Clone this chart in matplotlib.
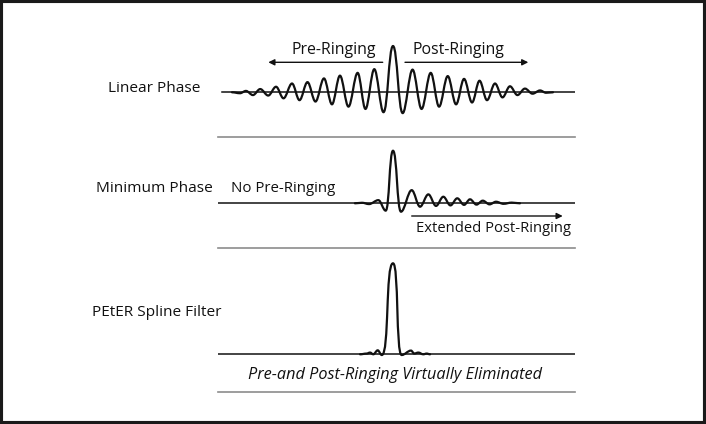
"""
Impulse responses of linear phase, minimum phase and PEtER spline filters
"""

import matplotlib
matplotlib.use("Agg")
from matplotlib import pyplot as plt
from matplotlib.path import Path
from matplotlib.patches import PathPatch, FancyArrowPatch, Rectangle

# extrema of each impulse response: time (ringing samples) and amplitude (peak = 1)
linear_t = [-9.47, -9.00, -8.65, -8.24, -7.81, -7.34, -6.88, -6.44, -5.94, -5.50,
            -5.03, -4.56, -4.06, -3.59, -3.12, -2.62, -2.08, -1.62, -1.10, -0.56,
            0.00, 0.57, 1.15, 1.68, 2.22, 2.71, 3.22, 3.71, 4.18, 4.65,
            5.09, 5.53, 6.00, 6.44, 6.88, 7.32, 7.76, 8.21, 8.65, 9.00, 9.41]
linear_a = [0.00, -0.02, 0.03, -0.06, 0.07, -0.07, 0.12, -0.13, 0.19, -0.17,
            0.22, -0.20, 0.30, -0.26, 0.36, -0.31, 0.42, -0.36, 0.50, -0.43,
            1.00, -0.45, 0.49, -0.36, 0.42, -0.31, 0.35, -0.26, 0.29, -0.22,
            0.25, -0.17, 0.19, -0.11, 0.13, -0.06, 0.08, -0.03, 0.04, -0.01, 0.00]

minimum_t = [-2.24, -1.82, -1.41, -0.86, -0.43, 0.00, 0.47, 1.10, 1.59, 2.08,
             2.53, 2.96, 3.38, 3.78, 4.18, 4.53, 4.91, 5.28, 5.68, 6.06,
             6.50, 6.98, 7.47]
minimum_a = [0.00, 0.01, -0.015, 0.06, -0.14, 1.00, -0.16, 0.25, -0.065, 0.17,
             -0.05, 0.125, -0.04, 0.095, -0.03, 0.076, -0.025, 0.05, -0.02, 0.03,
             -0.01, 0.013, 0.00]

peter_t = [-1.94, -1.55, -1.35, -1.16, -0.90, -0.66, 0.00, 0.51, 1.06, 1.25,
           1.49, 1.78, 1.98, 2.18]
peter_a = [0.00, 0.008, 0.019, 0.00, 0.044, -0.008, 1.00, -0.008, 0.041, 0.008,
           0.019, 0.00, 0.008, 0.00]

panel_labels = ["Linear Phase", "Minimum Phase", "PEtER Spline Filter"]

W, H = 706, 424
INK = "#111111"
FONT = "Open Sans"


def fx(px):
    return px / W


def fy(py):
    return 1 - py / H


def wave_path(t, a, k_ring, k_peak):
    """ Smooth path through the extrema, flat at every turning point """
    ipk = a.index(max(a))
    verts = [(t[0], a[0])]
    codes = [Path.MOVETO]
    for i in range(len(t) - 1):
        k = k_peak if i in (ipk - 1, ipk) else k_ring
        dt = t[i + 1] - t[i]
        verts += [(t[i] + k * dt, a[i]), (t[i + 1] - k * dt, a[i + 1]), (t[i + 1], a[i + 1])]
        codes += [Path.CURVE4] * 3
    return Path(verts, codes)


fig = plt.figure(figsize=(W / 100, H / 100), dpi=100)

# panel layout in pixels: rows (top, bottom), baseline row, pixels per unit amplitude
x0_px, x1_px, center_px, px_per_t = 218, 575, 393, 17.0
panels = [
    (linear_t, linear_a, (0, 136.7), 92.3, 46.3, 0.36, 0.45, 222),
    (minimum_t, minimum_a, (136.7, 248.3), 203.3, 52.6, 0.36, 0.50, 218),
    (peter_t, peter_a, (248.3, 391.7), 354.3, 91.0, 0.36, 0.68, 218),
]

for t, a, (top, bottom), base, scale, k_ring, k_peak, line_start in panels:
    ax = fig.add_axes([fx(x0_px), fy(bottom), (x1_px - x0_px) / W, (bottom - top) / H])
    ax.set_xlim((x0_px - center_px) / px_per_t, (x1_px - center_px) / px_per_t)
    ax.set_ylim((base - bottom) / scale, (base - top) / scale)
    ax.axhline(0, xmin=(line_start - x0_px) / (x1_px - x0_px), color=INK, lw=1.1)
    ax.add_patch(PathPatch(wave_path(t, a, k_ring, k_peak), fill=False,
                           edgecolor=INK, lw=1.6, joinstyle="round", capstyle="round"))
    ax.set_xticks([])
    ax.set_yticks([])
    ax.patch.set_visible(False)
    for side in ("top", "left", "right"):
        ax.spines[side].set_visible(False)
    ax.spines["bottom"].set_color("#8c8c8c")
    ax.spines["bottom"].set_linewidth(1.2)

# row labels
label_pos = [(108, 88.5), (96, 188), (92.3, 313)]
for text, (px, py) in zip(panel_labels, label_pos):
    fig.text(fx(px), fy(py), text, ha="left", va="center", fontsize=11.1,
             family=FONT, color=INK)

# annotations
fig.text(fx(334), fy(50.5), "Pre-Ringing", ha="center", va="center", fontsize=11.4, family=FONT, color=INK)
fig.text(fx(458.3), fy(50.5), "Post-Ringing", ha="center", va="center", fontsize=11.4, family=FONT, color=INK)
fig.text(fx(230.7), fy(189), "No Pre-Ringing", ha="left", va="center", fontsize=10.8, family=FONT, color=INK)
fig.text(fx(570.7), fy(229), "Extended Post-Ringing", ha="right", va="center", fontsize=10.6, family=FONT, color=INK)
fig.text(fx(395), fy(375), "Pre-and Post-Ringing Virtually Eliminated", ha="center", va="center",
         fontsize=11.7, family=FONT, style="italic", color=INK)

arrows = [((382.7, 62.3), (268.3, 62.3)), ((405, 62.3), (528.3, 62.3)), ((411.7, 216), (562.7, 216))]
for (ax_, ay_), (bx_, by_) in arrows:
    fig.add_artist(FancyArrowPatch((fx(ax_), fy(ay_)), (fx(bx_), fy(by_)), transform=fig.transFigure,
                                   arrowstyle="-|>", mutation_scale=9, lw=1.0, color=INK,
                                   shrinkA=0, shrinkB=0))

# frame
fig.add_artist(Rectangle((0, 0), 1, 1, transform=fig.transFigure, fill=False,
                         edgecolor="#1a1a1a", lw=4.4))

fig.savefig("out.png", dpi=100)
